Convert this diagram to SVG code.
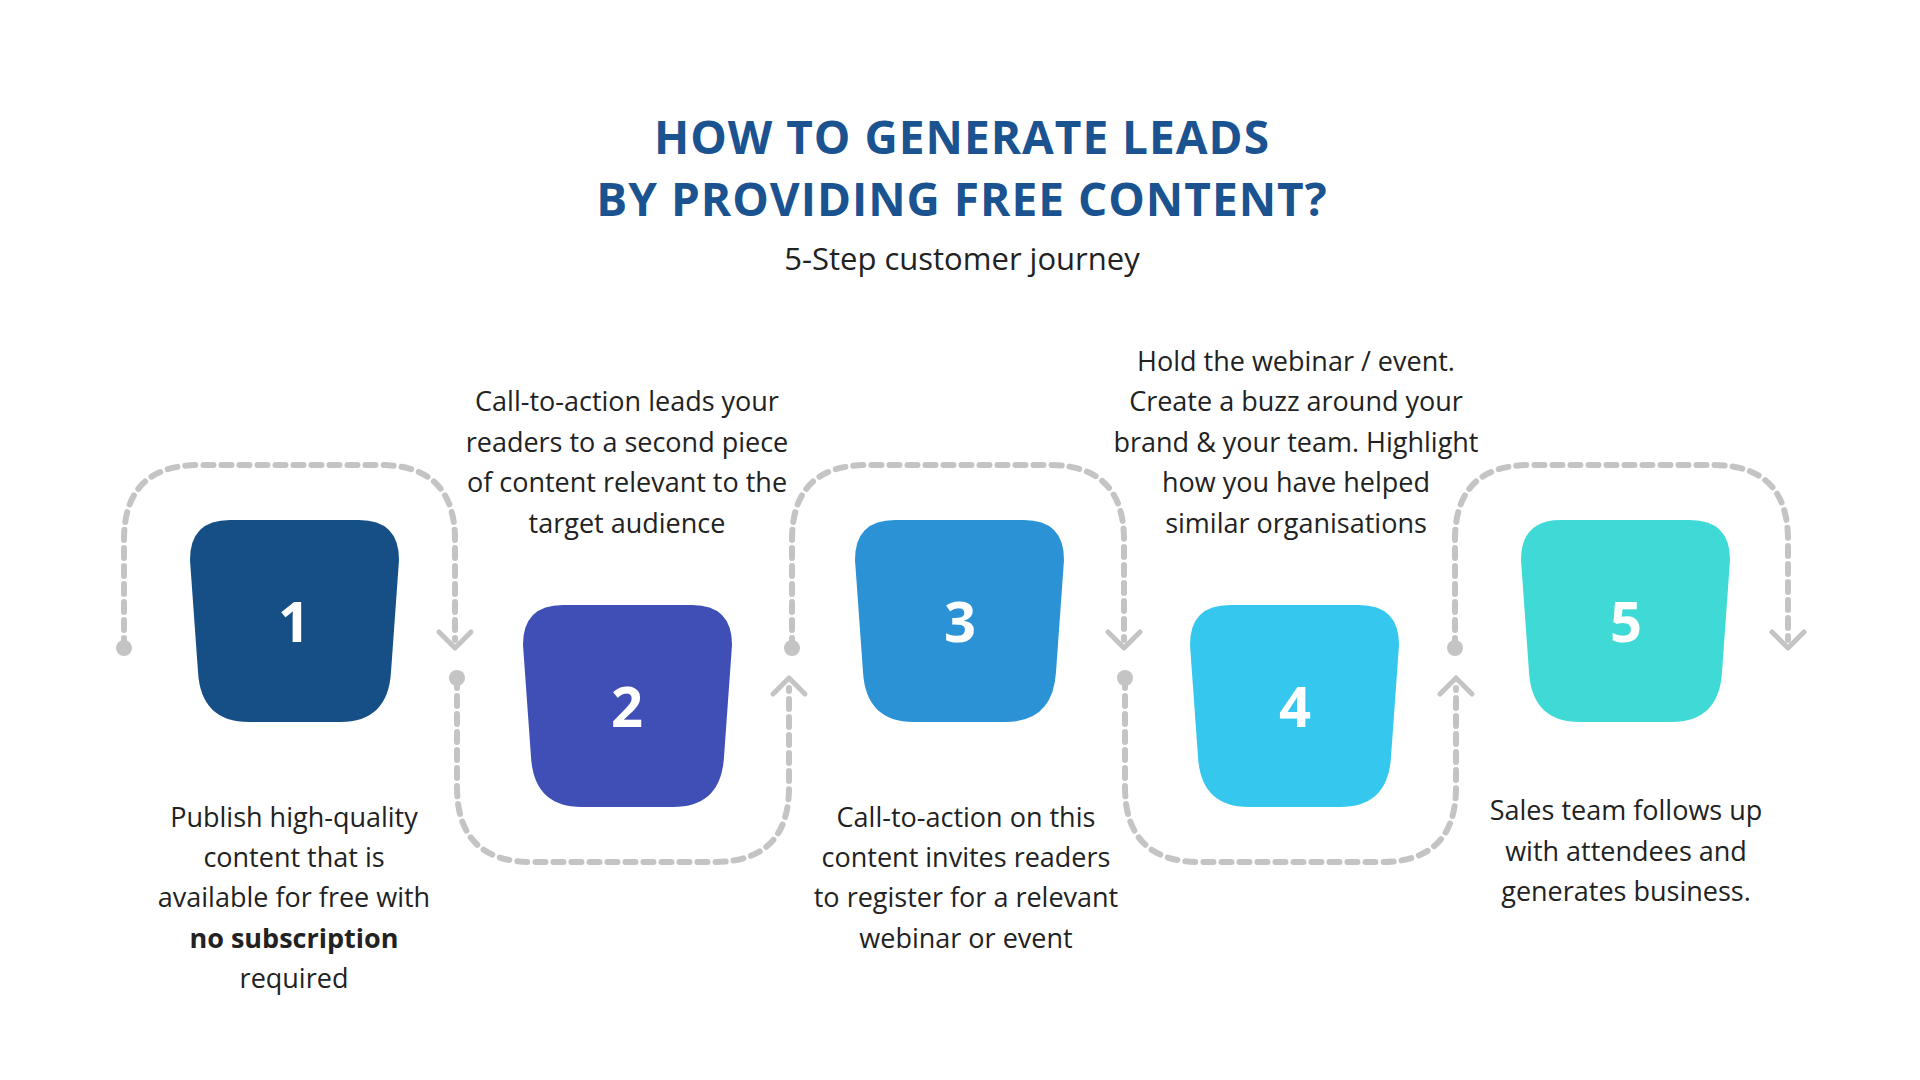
<svg xmlns="http://www.w3.org/2000/svg" width="1920" height="1080" viewBox="0 0 1920 1080">
<defs>
<style>
.t{font-family:"Open Sans","Liberation Sans",sans-serif;font-size:27px;fill:#222;text-anchor:middle}
.h{font-family:"Open Sans","Liberation Sans",sans-serif;font-weight:bold;font-size:46px;fill:#1a5390;text-anchor:middle;letter-spacing:1px}
.n{font-family:"Open Sans","Liberation Sans",sans-serif;font-weight:bold;font-size:56px;fill:#fff;text-anchor:middle}
.d{fill:none;stroke:#c4c4c4;stroke-width:6;stroke-dasharray:10 8;stroke-linecap:round}
.c{fill:none;stroke:#c4c4c4;stroke-width:5;stroke-linecap:round;stroke-linejoin:round}
</style>
<path id="s" d="M40,0 H169 Q209,0 209,40 L201,152 Q198,202 150,202 H59 Q11,202 8,152 L0,40 Q0,0 40,0 Z"/>
</defs>
<rect width="1920" height="1080" fill="#fff"/>
<text class="h" x="962" y="154">HOW TO GENERATE LEADS</text>
<text class="h" x="962" y="216">BY PROVIDING FREE CONTENT?</text>
<text class="t" x="962" y="270" style="font-size:31px">5-Step customer journey</text>
<g id="connectors">
<path class="d" d="M124,648 V540 Q124,465 199,465 H380 Q455,465 455,540 V640"/>
<circle cx="124" cy="648" r="8" fill="#c4c4c4"/><polyline class="c" points="439,632 455,648 471,632"/>
<path class="d" d="M457,678 V787 Q457,862 532,862 H714 Q789,862 789,787 V688"/>
<circle cx="457" cy="678" r="8" fill="#c4c4c4"/><polyline class="c" points="773,694 789,678 805,694"/>
<path class="d" d="M792,648 V540 Q792,465 867,465 H1049 Q1124,465 1124,540 V640"/>
<circle cx="792" cy="648" r="8" fill="#c4c4c4"/><polyline class="c" points="1108,632 1124,648 1140,632"/>
<path class="d" d="M1125,678 V787 Q1125,862 1200,862 H1381 Q1456,862 1456,787 V688"/>
<circle cx="1125" cy="678" r="8" fill="#c4c4c4"/><polyline class="c" points="1440,694 1456,678 1472,694"/>
<path class="d" d="M1455,648 V540 Q1455,465 1530,465 H1713 Q1788,465 1788,540 V640"/>
<circle cx="1455" cy="648" r="8" fill="#c4c4c4"/><polyline class="c" points="1772,632 1788,648 1804,632"/>
</g>
<g id="node1"><use href="#s" x="190" y="520" fill="#154f86"/><text class="n" x="294" y="642">1</text></g>
<g id="node2"><use href="#s" x="523" y="605" fill="#3f4fb6"/><text class="n" x="627" y="727">2</text></g>
<g id="node3"><use href="#s" x="855" y="520" fill="#2b92d5"/><text class="n" x="960" y="642">3</text></g>
<g id="node4"><use href="#s" x="1190" y="605" fill="#36c7ee"/><text class="n" x="1295" y="727">4</text></g>
<g id="node5"><use href="#s" x="1521" y="520" fill="#3fd9d6"/><text class="n" x="1626" y="642">5</text></g>
<g id="text1" class="t"><text class="t" x="294" y="827">Publish high-quality</text><text class="t" x="294" y="867">content that is</text><text class="t" x="294" y="907">available for free with</text><text class="t" x="294" y="948" font-weight="bold">no subscription</text><text class="t" x="294" y="988">required</text></g>
<g id="text2"><text class="t" x="627" y="411">Call-to-action leads your</text><text class="t" x="627" y="452">readers to a second piece</text><text class="t" x="627" y="492">of content relevant to the</text><text class="t" x="627" y="533">target audience</text></g>
<g id="text3"><text class="t" x="966" y="827">Call-to-action on this</text><text class="t" x="966" y="867">content invites readers</text><text class="t" x="966" y="907">to register for a relevant</text><text class="t" x="966" y="948">webinar or event</text></g>
<g id="text4"><text class="t" x="1296" y="371">Hold the webinar / event.</text><text class="t" x="1296" y="411">Create a buzz around your</text><text class="t" x="1296" y="452">brand &amp; your team. Highlight</text><text class="t" x="1296" y="492">how you have helped</text><text class="t" x="1296" y="533">similar organisations</text></g>
<g id="text5"><text class="t" x="1626" y="820">Sales team follows up</text><text class="t" x="1626" y="861">with attendees and</text><text class="t" x="1626" y="901">generates business.</text></g>
</svg>
